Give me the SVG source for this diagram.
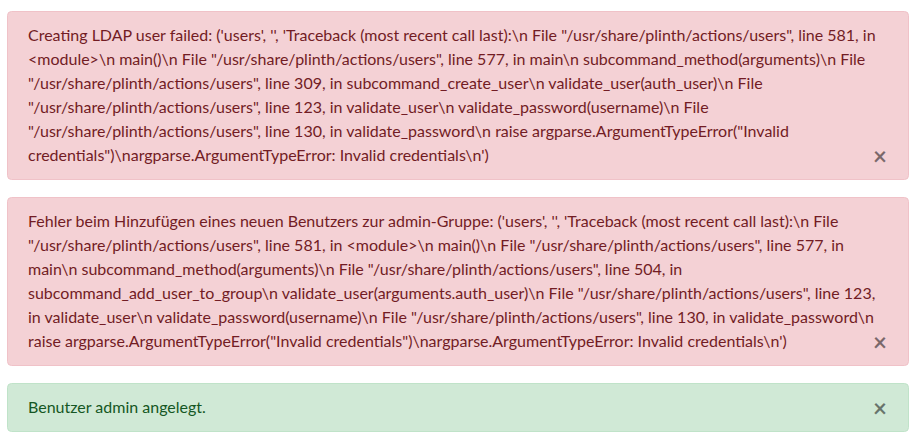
<svg xmlns="http://www.w3.org/2000/svg" width="917" height="447" viewBox="0 0 917 447">
<style>
.t{font-family:Lato,"Noto Sans","Liberation Sans",sans-serif;font-size:16px}
.danger rect{fill:#f4d1d5;stroke:#f0c2c8;stroke-width:1}
.danger text.t{fill:#721c24}
.success rect{fill:#d0e9d6;stroke:#c0e3c9;stroke-width:1}
.success text.t{fill:#155724}
.x{font-family:Lato,"Noto Sans","Liberation Sans",sans-serif;font-size:24px;font-weight:700;fill:#000;fill-opacity:0.5;text-anchor:middle}
</style>
<rect width="917" height="447" fill="#ffffff"/>
<g id="alert-ldap" class="danger">
<rect x="7.5" y="11.5" width="901" height="168" rx="4"/>
<text class="t" x="28" y="41">Creating LDAP user failed: ('users', '', 'Traceback (most recent call last):\n File "/usr/share/plinth/actions/users", line 581, in</text>
<text class="t" x="28" y="65">&lt;module&gt;\n main()\n File "/usr/share/plinth/actions/users", line 577, in main\n subcommand_method(arguments)\n File</text>
<text class="t" x="28" y="89">"/usr/share/plinth/actions/users", line 309, in subcommand_create_user\n validate_user(auth_user)\n File</text>
<text class="t" x="28" y="113">"/usr/share/plinth/actions/users", line 123, in validate_user\n validate_password(username)\n File</text>
<text class="t" x="28" y="137">"/usr/share/plinth/actions/users", line 130, in validate_password\n raise argparse.ArgumentTypeError("Invalid</text>
<text class="t" x="28" y="161">credentials")\nargparse.ArgumentTypeError: Invalid credentials\n')</text>
<text class="x" x="880" y="165">×</text>
</g>
<g id="alert-group" class="danger">
<rect x="7.5" y="197.5" width="901" height="168" rx="4"/>
<text class="t" x="28" y="227">Fehler beim Hinzufügen eines neuen Benutzers zur admin-Gruppe: ('users', '', 'Traceback (most recent call last):\n File</text>
<text class="t" x="28" y="251">"/usr/share/plinth/actions/users", line 581, in &lt;module&gt;\n main()\n File "/usr/share/plinth/actions/users", line 577, in</text>
<text class="t" x="28" y="275">main\n subcommand_method(arguments)\n File "/usr/share/plinth/actions/users", line 504, in</text>
<text class="t" x="28" y="299">subcommand_add_user_to_group\n validate_user(arguments.auth_user)\n File "/usr/share/plinth/actions/users", line 123,</text>
<text class="t" x="28" y="323">in validate_user\n validate_password(username)\n File "/usr/share/plinth/actions/users", line 130, in validate_password\n</text>
<text class="t" x="28" y="347">raise argparse.ArgumentTypeError("Invalid credentials")\nargparse.ArgumentTypeError: Invalid credentials\n')</text>
<text class="x" x="880" y="351">×</text>
</g>
<g id="alert-success" class="success">
<rect x="7.5" y="383.5" width="901" height="48" rx="4"/>
<text class="t" x="28" y="413">Benutzer admin angelegt.</text>
<text class="x" x="880" y="417">×</text>
</g>
</svg>
